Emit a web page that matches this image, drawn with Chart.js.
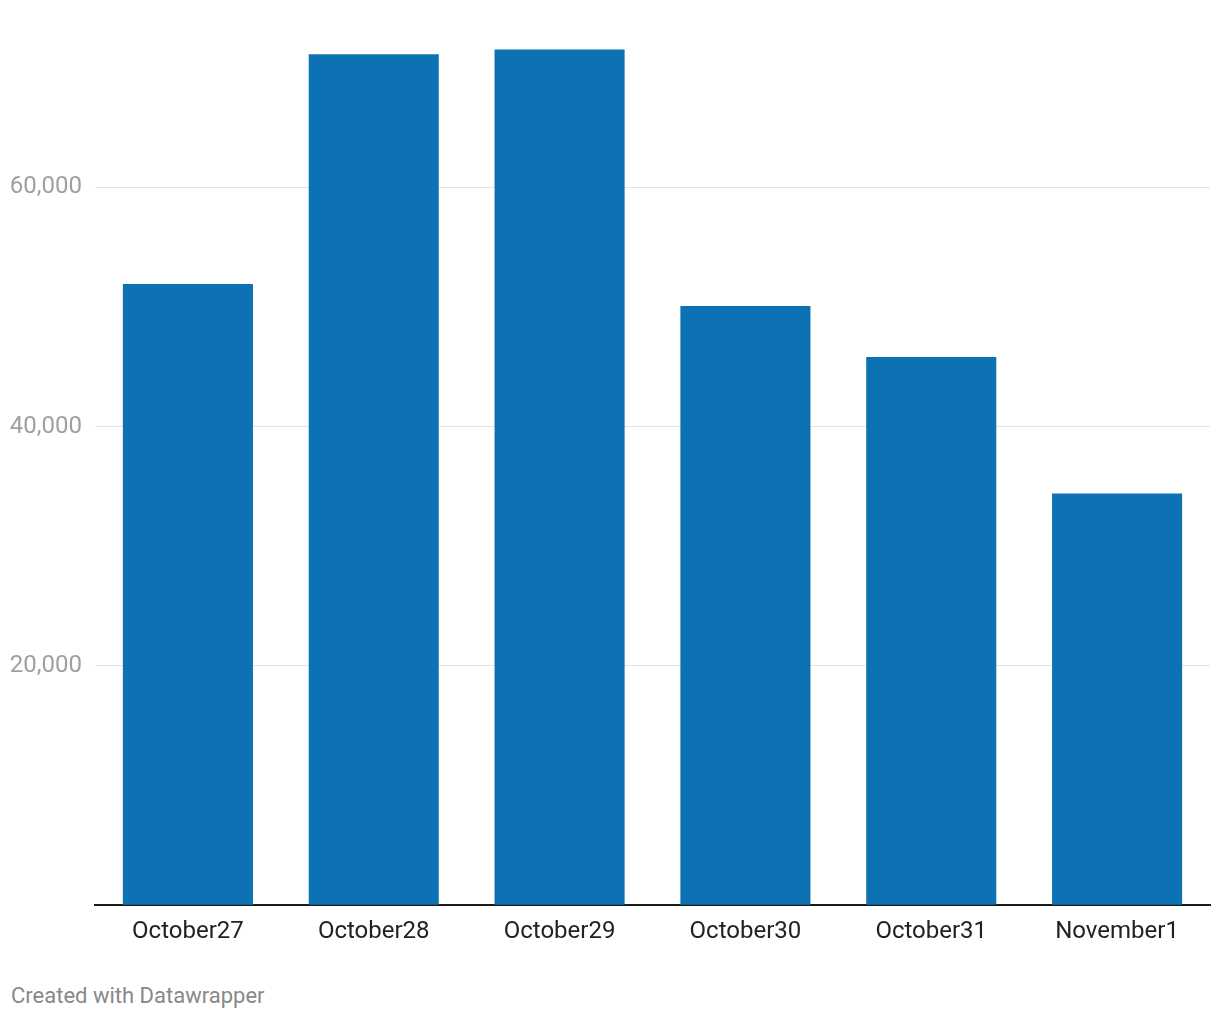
<!DOCTYPE html>
<html>
<head>
<meta charset="utf-8">
<script src="https://cdn.jsdelivr.net/npm/chart.js@4.4.1/dist/chart.umd.min.js"></script>
<style>
  html, body { margin: 0; padding: 0; background: #fff; }
  #wrap { position: relative; width: 1220px; height: 1020px; }
  #chart { position: absolute; left: 0; top: 0; }
  #credit {
    position: absolute; left: 11px; top: 983px;
    font: 22px Roboto, sans-serif; color: #888;
  }
</style>
</head>
<body>
<div id="wrap">
  <canvas id="chart" width="1220" height="958"></canvas>
  <div id="credit">Created with Datawrapper</div>
</div>
<script>
        // data
        const categories = ["October27", "October28", "October29", "October30", "October31", "November1"];
        const values = [51900, 71100, 71500, 50060, 45800, 34400];
        const yTicks = [0, 20000, 40000, 60000];

        const barColor = "#0c72b4";

        let ctx = document.getElementById("chart").getContext("2d");

        let chart = new Chart(ctx, {
            type: "bar",
            data: {
                labels: categories,
                datasets: [{
                    data: values,
                    backgroundColor: barColor,
                    borderWidth: 0,
                    categoryPercentage: 1,
                    barPercentage: 0.7
                }]
            },
            options: {
                responsive: false,
                animation: false,
                layout: { padding: { top: 6, right: 10, left: 0, bottom: 0 } },
                plugins: {
                    legend: { display: false },
                    tooltip: { enabled: false }
                },
                scales: {
                    x: {
                        grid: { display: false, drawTicks: false },
                        border: { display: true, color: "#1a1a1a", width: 2 },
                        ticks: {
                            color: "#222",
                            padding: 12,
                            maxRotation: 0,
                            font: { family: "Roboto", size: 24 }
                        }
                    },
                    y: {
                        min: 0,
                        max: 73350,
                        border: { display: false },
                        grid: { color: "#e3e3e3", lineWidth: 1, drawTicks: false },
                        afterBuildTicks: axis => {
                            axis.ticks = yTicks.map(v => ({ value: v }));
                        },
                        afterFit: axis => { axis.width = 95; },
                        ticks: {
                            color: "#a0a0a0",
                            padding: 13,
                            font: { family: "Roboto", size: 24 },
                            callback: v => v === 0 ? "" : v.toLocaleString("en-US")
                        }
                    }
                }
            }
        });
</script>
</body>
</html>
